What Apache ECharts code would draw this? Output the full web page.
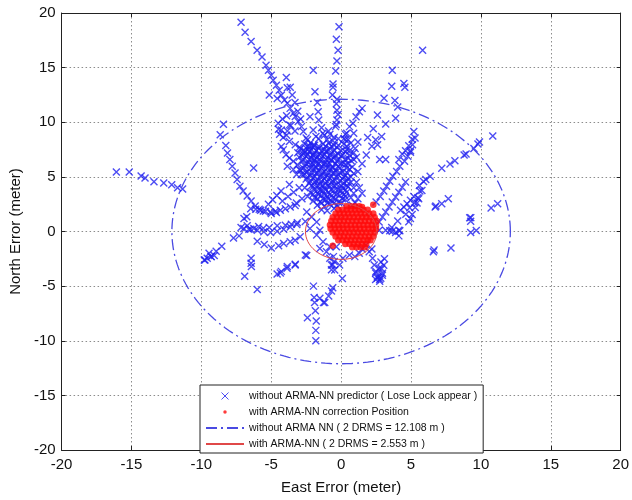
<!DOCTYPE html>
<html>
<head>
<meta charset="utf-8">
<script src="https://cdn.jsdelivr.net/npm/echarts@6/dist/echarts.min.js"></script>
<style>
  html, body { margin: 0; padding: 0; background: #fff; }
  #chart { width: 632px; height: 500px; }
</style>
</head>
<body>
<div id="chart"></div>
<script>
// axis ticks (meters)
const axisTicks = [-20, -15, -10, -5, 0, 5, 10, 15, 20]

// legend labels
const seriesNames = [
  'without ARMA-NN predictor ( Lose Lock appear )',
  'with ARMA-NN correction Position',
  'without ARMA NN ( 2 DRMS = 12.108 m )',
  'with ARMA-NN ( 2 DRMS = 2.553 m )'
]

// 2 DRMS radius of each solution
const drmsRadius = [12.108, 2.553]

// east/north error without ARMA-NN
const rayPoints = [
  [-7.16, 19.15], [-6.87, 18.24], [-6.44, 17.39], [-6.01, 16.58], [-5.66, 15.97], [-5.37, 15.21], [-5.2, 14.76], [-5.0, 14.3],
  [-4.86, 13.85], [-4.63, 13.39], [-4.43, 12.94], [-4.28, 12.48], [-4.05, 12.03], [-3.85, 11.73], [-3.65, 11.27], [-3.42, 10.82],
  [-3.28, 10.52], [-3.07, 10.06], [-2.84, 9.6], [-2.7, 9.15], [-2.5, 8.55], [-2.27, 7.8], [-2.04, 7.0], [-1.84, 6.27],
  [-3.92, 14.1], [-3.64, 13.2], [-3.85, 13.15], [-5.14, 12.5], [-4.57, 12.18], [-3.5, 12.5], [-3.3, 11.8], [-3.1, 11.0], [-2.9, 10.3],
  [-4.48, 9.36], [-4.28, 9.3], [-3.85, 9.2], [-3.7, 9.76], [-4.14, 8.6], [-3.7, 8.24], [-3.28, 7.94], [-2.99, 7.7], [-2.41, 8.4],
  [-2.56, 7.33], [-4.28, 7.79], [-4.14, 7.48], [-3.94, 7.03], [-3.7, 6.73], [-3.42, 6.42], [-3.13, 6.12], [-2.99, 5.67], [-2.84, 5.21],
  [-3.85, 5.97], [-3.42, 5.67], [-3.19, 5.21], [-4.5, 9.9], [-4.2, 10.3], [-3.9, 10.6], [-3.6, 9.7], [-3.3, 9.2], [-3.9, 8.8], [-4.4, 8.9],
  [-1.99, 14.75], [-1.87, 12.8], [-1.7, 11.8], [-1.64, 10.97], [-2.23, 10.5], [-2.0, 9.3], [-1.8, 8.7], [-1.4, 9.5], [-1.6, 10.2],
  [-1.2, 8.8], [-0.9, 9.2], [-0.5, 8.6], [-0.4, 9.6], [0.3, 8.9], [0.5, 8.4], [0.9, 9.0], [1.2, 8.2],
  [-0.15, 18.75], [-0.34, 17.6], [-0.22, 16.6], [-0.3, 15.6], [-0.39, 14.7], [-0.58, 13.5], [-0.58, 13.2], [-0.62, 12.5],
  [-0.3, 12.1], [-0.34, 11.7], [-0.3, 11.1], [-0.22, 10.7], [-0.3, 10.2], [-0.35, 9.8],
  [0.6, 9.6], [0.84, 9.9], [1.07, 10.5], [1.31, 10.97], [1.5, 11.27], [0.4, 9.0], [0.2, 8.5], [2.6, 10.66], [3.19, 9.85], [3.9, 10.36],
  [4.05, 11.4], [3.66, 14.75], [3.62, 13.3], [4.49, 13.55], [4.56, 13.2], [3.07, 12.2], [3.85, 12.0], [5.83, 16.58], [2.47, 8.4],
  [2.61, 7.94], [2.9, 8.7], [2.76, 6.58], [3.19, 6.58], [1.8, 7.0], [2.2, 7.8], [1.5, 6.2], [1.2, 5.5], [2.3, 9.4], [1.9, 8.6],
  [5.2, 9.15], [5.29, 8.55], [5.11, 7.94], [4.97, 7.4], [4.77, 6.88], [4.54, 6.42], [4.2, 5.97], [3.97, 5.5], [3.7, 5.06], [3.48, 4.6],
  [3.25, 4.15], [3.05, 3.7], [2.8, 3.2], [2.5, 2.7], [5.08, 8.45], [4.84, 7.85], [4.61, 7.4], [4.37, 7.1], [4.13, 6.6], [4.96, 7.25],
  [10.85, 8.75], [9.9, 8.2], [9.79, 8.0], [9.5, 7.6], [8.94, 7.09], [8.8, 7.0], [8.14, 6.48], [7.79, 6.18], [7.2, 5.79], [6.37, 5.06],
  [6.06, 4.76], [5.9, 4.58], [5.6, 4.2], [5.78, 3.75], [5.63, 3.7], [5.49, 3.09], [5.26, 2.64], [4.91, 2.18], [4.63, 1.58], [4.05, 0.97],
  [3.62, 0.36], [5.55, 3.0], [5.43, 2.6], [5.3, 2.2], [5.08, 1.55], [4.96, 1.2], [4.84, 0.9], [5.2, 3.2], [4.96, 2.85], [4.72, 2.55],
  [4.49, 2.25], [4.25, 1.95],
  [2.72, 0.88], [2.96, 1.33], [3.19, 1.79], [3.43, 2.24], [3.66, 2.7], [3.9, 3.15], [4.13, 3.6], [4.37, 4.06], [4.61, 4.52],
  [2.72, 0.12], [3.19, 0.12], [3.66, 0.03], [4.13, 0.12], [3.48, 0.06], [3.9, -0.09], [4.2, 0.06], [4.13, -0.4],
  [6.73, 2.25], [7.2, 2.55], [7.67, 3.0], [6.78, 2.33], [10.73, 2.15], [11.2, 2.55], [9.2, 1.25], [9.27, 0.94], [9.28, 1.27],
  [9.27, -0.1], [9.67, 0.1], [6.6, -1.85], [6.65, -1.7], [7.86, -1.5],
  [1.78, -1.24], [2.01, -1.85], [2.25, -2.45], [2.37, -3.06], [2.49, -3.67], [2.6, -4.12], [2.84, -4.27], [2.96, -3.82], [2.72, -3.36],
  [2.47, -3.8], [2.6, -4.25], [2.76, -4.4], [2.9, -3.4], [2.85, -2.8], [2.95, -4.0], [3.05, -3.1], [2.47, -4.4], [2.76, -4.55],
  [3.1, -2.5], [2.2, -1.6],
  [-1.52, -1.55], [-1.05, -1.85], [-0.81, -2.45], [-0.69, -3.06], [-0.46, -3.52], [-0.11, -3.06], [0.13, -2.45], [0.6, -2.15],
  [0.98, -2.3], [1.3, -2.0], [1.5, -1.6], [0.09, -4.3], [-0.69, -3.5], [-0.6, -3.05], [-0.49, -2.75], [-0.55, -2.3],
  [-2.23, 0.27], [-1.75, -0.33], [-1.52, 0.12], [-1.29, -0.94], [-0.81, -1.39], [-0.34, -1.39], [-1.75, 0.88], [-2.11, 1.33], [-2.46, 1.79],
  [-1.98, -5.0], [-1.93, -6.05], [-1.9, -6.5], [-1.84, -7.25], [-1.78, -8.2], [-1.81, -9.05], [-1.81, -10.0], [-2.41, -7.9],
  [-1.26, -6.5], [-0.89, -5.9], [-0.69, -5.45], [-0.6, -5.15], [-1.52, -6.1], [-1.17, -6.5], [-2.46, -2.2],
  [-3.29, -3.06], [-3.87, -3.36], [-4.35, -3.8], [-4.58, -3.9], [-4.28, -3.65], [-3.85, -3.2], [-3.28, -3.0], [-2.56, -2.15],
  [-6.44, -2.9], [-6.44, -2.45], [-6.42, -3.2], [-6.9, -4.1], [-6.0, -5.3], [-9.74, -2.6], [-9.31, -2.3], [-9.45, -2.0],
  [-8.54, -1.36], [-8.94, -1.8], [-9.08, -2.2], [-9.29, -2.3], [-9.58, -2.45], [-9.79, -2.6],
  [-2.93, -0.48], [-3.29, -0.79], [-3.64, -0.94], [-4.11, -1.09], [-4.47, -1.3], [-5.0, -1.5], [-5.5, -1.2], [-6.0, -0.9], [-7.7, -0.6], [-7.3, -0.4],
  [-6.47, 2.09], [-6.11, 2.03], [-5.76, 1.94], [-5.41, 1.85], [-5.05, 1.79], [-4.7, 1.85], [-4.35, 1.94], [-3.99, 2.09], [-3.64, 2.24],
  [-3.29, 2.39], [-6.95, 1.2], [-6.75, 1.35],
  [-6.47, 0.21], [-6.0, 0.12], [-5.53, -0.03], [-5.05, -0.09], [-4.58, 0.03], [-4.11, 0.21], [-3.64, 0.42], [-3.17, 0.64], [-6.96, 0.27],
  [-6.6, 0.2], [-6.25, 0.27], [-5.9, 0.45], [-7.16, 0.36], [-6.72, 0.52], [-5.57, 0.3], [-5.14, 0.36], [-4.57, 0.52], [-3.99, 0.58],
  [-3.56, 0.67], [-3.13, 0.79], [-2.56, 0.91],
  [-8.42, 9.82], [-8.65, 8.85], [-8.25, 7.88], [-8.13, 7.18], [-7.96, 6.58], [-7.79, 5.97], [-7.59, 5.36], [-7.44, 4.76], [-7.24, 4.15],
  [-7.01, 3.7], [-6.72, 3.24], [-6.44, 2.79], [-6.15, 2.33], [-5.86, 2.03], [-5.57, 1.88], [-5.0, 1.64], [-4.63, 1.73], [-6.26, 5.82],
  [-3.7, 4.3], [-4.3, 3.7], [-4.6, 3.3], [-4.9, 2.9], [-5.2, 2.5], [-3.0, 4.0], [-3.4, 3.6], [-3.8, 3.2], [-4.2, 2.8], [-2.8, 3.0], [-3.2, 2.6],
  [-16.08, 5.45], [-15.16, 5.45], [-14.31, 5.09], [-14.03, 4.9], [-13.39, 4.55], [-12.69, 4.45], [-12.12, 4.27], [-11.7, 4.0], [-11.34, 3.9]
]

// dense core of the uncorrected solution
const corePoints = [
  [-2.6, 8.0], [-2.2, 8.1], [-1.9, 7.9], [-1.3, 8.0], [-0.9, 8.1], [-0.5, 7.9], [0.2, 8.0], [0.7, 8.1],
  [-2.9, 7.6], [-2.4, 7.5], [-2.0, 7.7], [-1.6, 7.6], [-1.2, 7.5], [-0.8, 7.6], [-0.3, 7.7], [0.4, 7.5], [1.0, 7.6],
  [-3.1, 7.2], [-2.7, 7.1], [-2.3, 7.3], [-1.9, 7.2], [-1.5, 7.1], [-1.1, 7.3], [-0.7, 7.2], [-0.2, 7.1], [0.3, 7.3], [0.9, 7.2],
  [-3.0, 6.8], [-2.5, 6.9], [-2.1, 6.7], [-1.7, 6.8], [-1.3, 6.9], [-0.9, 6.7], [-0.5, 6.8], [0.0, 6.9], [0.5, 6.7], [1.1, 6.8],
  [-2.8, 6.4], [-2.3, 6.3], [-1.9, 6.5], [-1.5, 6.4], [-1.1, 6.3], [-0.7, 6.5], [-0.3, 6.4], [0.2, 6.3], [0.7, 6.5],
  [-2.6, 6.0], [-2.2, 6.1], [-1.8, 5.9], [-1.4, 6.0], [-1.0, 6.1], [-0.6, 5.9], [-0.2, 6.0], [0.3, 6.1], [0.8, 5.9],
  [-2.9, 5.6], [-2.4, 5.5], [-2.0, 5.7], [-1.6, 5.6], [-1.2, 5.5], [-0.8, 5.7], [-0.4, 5.6], [0.1, 5.5], [0.6, 5.7],
  [-2.7, 5.2], [-2.2, 5.1], [-1.8, 5.3], [-1.4, 5.2], [-1.0, 5.1], [-0.6, 5.3], [-0.2, 5.2], [0.3, 5.1], [0.9, 5.3],
  [-2.5, 4.8], [-2.0, 4.9], [-1.6, 4.7], [-1.2, 4.8], [-0.8, 4.9], [-0.4, 4.7], [0.1, 4.8], [0.5, 4.9],
  [-2.3, 4.4], [-1.9, 4.5], [-1.5, 4.3], [-1.1, 4.4], [-0.7, 4.5], [-0.3, 4.3], [0.2, 4.4], [0.7, 4.5],
  [-2.6, 4.0], [-2.0, 4.1], [-1.6, 3.9], [-1.2, 4.0], [-0.8, 4.1], [-0.4, 3.9], [0.1, 4.0], [0.5, 4.1],
  [-2.2, 3.6], [-1.7, 3.5], [-1.3, 3.7], [-0.9, 3.6], [-0.5, 3.5], [0.0, 3.7], [0.4, 3.6],
  [-2.4, 3.2], [-1.9, 3.1], [-1.4, 3.3], [-1.0, 3.2], [-0.6, 3.1], [-0.1, 3.3], [0.3, 3.2],
  [-2.0, 2.8], [-1.5, 2.7], [-1.1, 2.9], [-0.7, 2.8], [-0.2, 2.7], [0.3, 2.9],
  [-1.7, 2.4], [-1.2, 2.3], [-0.8, 2.5], [-0.3, 2.4],
  [-1.4, 2.0], [-1.0, 1.9], [-0.5, 2.1],
  [-1.6, 8.5], [-1.0, 8.4], [-0.6, 8.3], [-0.2, 8.5], [0.3, 8.4], [-1.3, 9.0], [-0.8, 8.9],
  [-2.4, 7.8], [-2.0, 7.9], [-1.6, 7.8], [-1.1, 7.8], [-0.7, 7.8], [-0.2, 7.9], [0.4, 7.8],
  [-2.7, 7.4], [-2.2, 7.4], [-1.8, 7.4], [-1.4, 7.4], [-1.0, 7.4], [-0.5, 7.4], [0.0, 7.4], [0.6, 7.4],
  [-2.8, 7.0], [-2.4, 7.0], [-2.0, 7.0], [-1.6, 7.0], [-1.2, 7.0], [-0.8, 7.0], [-0.4, 7.0], [0.1, 7.0], [0.6, 7.0],
  [-2.7, 6.6], [-2.3, 6.6], [-1.9, 6.6], [-1.5, 6.6], [-1.1, 6.6], [-0.7, 6.6], [-0.2, 6.6], [0.3, 6.6], [0.9, 6.6],
  [-2.5, 6.2], [-2.0, 6.2], [-1.6, 6.2], [-1.2, 6.2], [-0.8, 6.2], [-0.4, 6.2], [0.0, 6.2], [0.5, 6.2],
  [-2.7, 5.8], [-2.2, 5.8], [-1.8, 5.8], [-1.4, 5.8], [-1.0, 5.8], [-0.6, 5.8], [-0.1, 5.8], [0.4, 5.8],
  [-2.5, 5.4], [-2.1, 5.4], [-1.7, 5.4], [-1.3, 5.4], [-0.9, 5.4], [-0.5, 5.4], [-0.1, 5.4], [0.4, 5.4],
  [-2.4, 5.0], [-1.9, 5.0], [-1.5, 5.0], [-1.1, 5.0], [-0.7, 5.0], [-0.3, 5.0], [0.2, 5.0], [0.7, 5.0],
  [-2.2, 4.6], [-1.8, 4.6], [-1.4, 4.6], [-1.0, 4.6], [-0.6, 4.6], [-0.1, 4.6], [0.4, 4.6],
  [-2.1, 4.2], [-1.7, 4.2], [-1.3, 4.2], [-0.9, 4.2], [-0.5, 4.2], [0.0, 4.2], [0.4, 4.2],
  [-1.9, 3.8], [-1.5, 3.8], [-1.1, 3.8], [-0.7, 3.8], [-0.2, 3.8], [0.3, 3.8],
  [-2.0, 3.4], [-1.6, 3.4], [-1.2, 3.4], [-0.8, 3.4], [-0.3, 3.4], [0.2, 3.4],
  [-1.7, 3.0], [-1.3, 3.0], [-0.9, 3.0], [-0.4, 3.0], [0.1, 3.0],
  [-1.4, 2.6], [-1.0, 2.6], [-0.5, 2.6], [0.0, 2.6],
  [0.9, 3.5], [1.2, 3.0], [1.0, 2.6], [1.3, 4.0], [1.5, 3.5], [0.8, 2.4], [0.7, 3.1], [1.1, 4.5], [0.9, 4.0]
]

// east/north error with ARMA-NN correction
const correctedPoints = [
  [0.4, 2.3], [0.7, 2.3], [1.0, 2.3], [1.3, 2.3], [1.5, 2.25],
  [-0.2, 2.0], [0.1, 2.0], [0.4, 2.0], [0.7, 2.0], [1.0, 2.0], [1.3, 2.0], [1.6, 2.0], [1.9, 2.0],
  [-0.4, 1.65], [-0.1, 1.65], [0.2, 1.65], [0.5, 1.65], [0.8, 1.65], [1.1, 1.65], [1.4, 1.65], [1.7, 1.65], [2.0, 1.65], [2.3, 1.65],
  [-0.6, 1.3], [-0.3, 1.3], [0.0, 1.3], [0.3, 1.3], [0.6, 1.3], [0.9, 1.3], [1.2, 1.3], [1.5, 1.3], [1.8, 1.3], [2.1, 1.3], [2.4, 1.3],
  [-0.7, 0.95], [-0.4, 0.95], [-0.1, 0.95], [0.2, 0.95], [0.5, 0.95], [0.8, 0.95], [1.1, 0.95], [1.4, 0.95], [1.7, 0.95], [2.0, 0.95], [2.3, 0.95], [2.55, 0.95],
  [-0.8, 0.6], [-0.5, 0.6], [-0.2, 0.6], [0.1, 0.6], [0.4, 0.6], [0.7, 0.6], [1.0, 0.6], [1.3, 0.6], [1.6, 0.6], [1.9, 0.6], [2.2, 0.6], [2.5, 0.6],
  [-0.75, 0.25], [-0.45, 0.25], [-0.15, 0.25], [0.15, 0.25], [0.45, 0.25], [0.75, 0.25], [1.05, 0.25], [1.35, 0.25], [1.65, 0.25], [1.95, 0.25], [2.25, 0.25], [2.5, 0.25],
  [-0.6, -0.1], [-0.3, -0.1], [0.0, -0.1], [0.3, -0.1], [0.6, -0.1], [0.9, -0.1], [1.2, -0.1], [1.5, -0.1], [1.8, -0.1], [2.1, -0.1], [2.4, -0.1],
  [-0.4, -0.45], [-0.1, -0.45], [0.2, -0.45], [0.5, -0.45], [0.8, -0.45], [1.1, -0.45], [1.4, -0.45], [1.7, -0.45], [2.0, -0.45], [2.3, -0.45],
  [-0.2, -0.8], [0.1, -0.8], [0.4, -0.8], [0.7, -0.8], [1.0, -0.8], [1.3, -0.8], [1.6, -0.8], [1.9, -0.8], [2.1, -0.8],
  [0.3, -1.15], [0.6, -1.15], [0.9, -1.15], [1.2, -1.15], [1.5, -1.15], [1.8, -1.15],
  [0.8, -1.45], [1.1, -1.45], [1.4, -1.45], [1.7, -1.45],
  [2.3, 2.45], [-0.6, -1.3]
]

function drmsCircle(r) {
  // outline of the 2 DRMS circle around the origin
  const pts = []
  for (let i = 0; i <= 200; i++) {
    const a = (i / 200) * Math.PI * 2
    pts.push([r * Math.cos(a), r * Math.sin(a)])
  }
  return pts
}

const blue = '#2020f0'
const red = '#ff0a0a'

const axisBase = {
  type: 'value',
  min: axisTicks[0],
  max: axisTicks[axisTicks.length - 1],
  interval: axisTicks[1] - axisTicks[0],
  axisLine: { onZero: false, lineStyle: { color: '#222', width: 1 } },
  axisTick: { inside: true, length: 4, lineStyle: { color: '#222' } }
}

const gridDots = { show: true, lineStyle: { type: [1.5, 2.5], color: '#8c8c8c', width: 1 } }

const chart = echarts.init(document.getElementById('chart'), null, { renderer: 'canvas' })
chart.setOption({
  animation: false,
  backgroundColor: '#fff',
  textStyle: { fontFamily: 'Liberation Sans, Arial, sans-serif' },
  grid: { left: 58, right: 8, top: 13, bottom: 47 },
  xAxis: [
    {
      ...axisBase,
      position: 'bottom',
      name: 'East Error (meter)',
      nameLocation: 'middle',
      nameGap: 30,
      nameTextStyle: { fontSize: 15, color: '#111' },
      axisLabel: { fontSize: 15, color: '#111', margin: 7 },
      splitLine: gridDots
    },
    { ...axisBase, position: 'top', axisLabel: { show: false }, splitLine: { show: false } }
  ],
  yAxis: [
    {
      ...axisBase,
      position: 'left',
      name: 'North Error (meter)',
      nameLocation: 'middle',
      nameRotate: 90,
      nameGap: 34,
      nameTextStyle: { fontSize: 15, color: '#111' },
      axisLabel: { fontSize: 15, color: '#111', margin: 6 },
      splitLine: gridDots
    },
    { ...axisBase, position: 'right', axisLabel: { show: false }, splitLine: { show: false } }
  ],
  legend: {
    orient: 'vertical',
    left: 200,
    top: 385,
    itemWidth: 38,
    itemHeight: 7,
    itemGap: 4,
    padding: [5, 6, 3, 5],
    backgroundColor: '#fff',
    borderColor: '#222',
    borderWidth: 1,
    borderRadius: 0,
    symbolKeepAspect: true,
    textStyle: { fontSize: 10.5, color: '#111', lineHeight: 12 },
    data: [
      { name: seriesNames[0], itemStyle: { borderWidth: 1 } },
      { name: seriesNames[1], icon: 'path://M0,0M10,10M5,2.5A2.5,2.5 0 1,1 5,7.5A2.5,2.5 0 1,1 5,2.5Z' },
      { name: seriesNames[2], itemStyle: { opacity: 0 } },
      { name: seriesNames[3], itemStyle: { opacity: 0 } }
    ]
  },
  series: [
    {
      name: seriesNames[0],
      type: 'scatter',
      symbol: 'path://M0,0L10,10M10,0L0,10',
      symbolSize: 7,
      itemStyle: { color: blue, borderColor: blue, borderWidth: 1.4 },
      data: rayPoints.concat(corePoints),
      silent: true
    },
    {
      name: seriesNames[1],
      type: 'scatter',
      symbol: 'circle',
      symbolSize: 6.5,
      itemStyle: { color: red },
      data: correctedPoints,
      silent: true
    },
    {
      name: seriesNames[2],
      type: 'line',
      data: drmsCircle(drmsRadius[0]),
      showSymbol: false,
      symbol: 'none',
      lineStyle: { color: '#4a4ae2', width: 1.3, type: [11, 4, 2, 4] },
      itemStyle: { color: '#4a4ae2' },
      silent: true
    },
    {
      name: seriesNames[3],
      type: 'line',
      data: drmsCircle(drmsRadius[1]),
      showSymbol: false,
      symbol: 'none',
      lineStyle: { color: '#e04848', width: 1 },
      itemStyle: { color: '#e04848' },
      silent: true
    }
  ]
})
</script>
</body>
</html>
